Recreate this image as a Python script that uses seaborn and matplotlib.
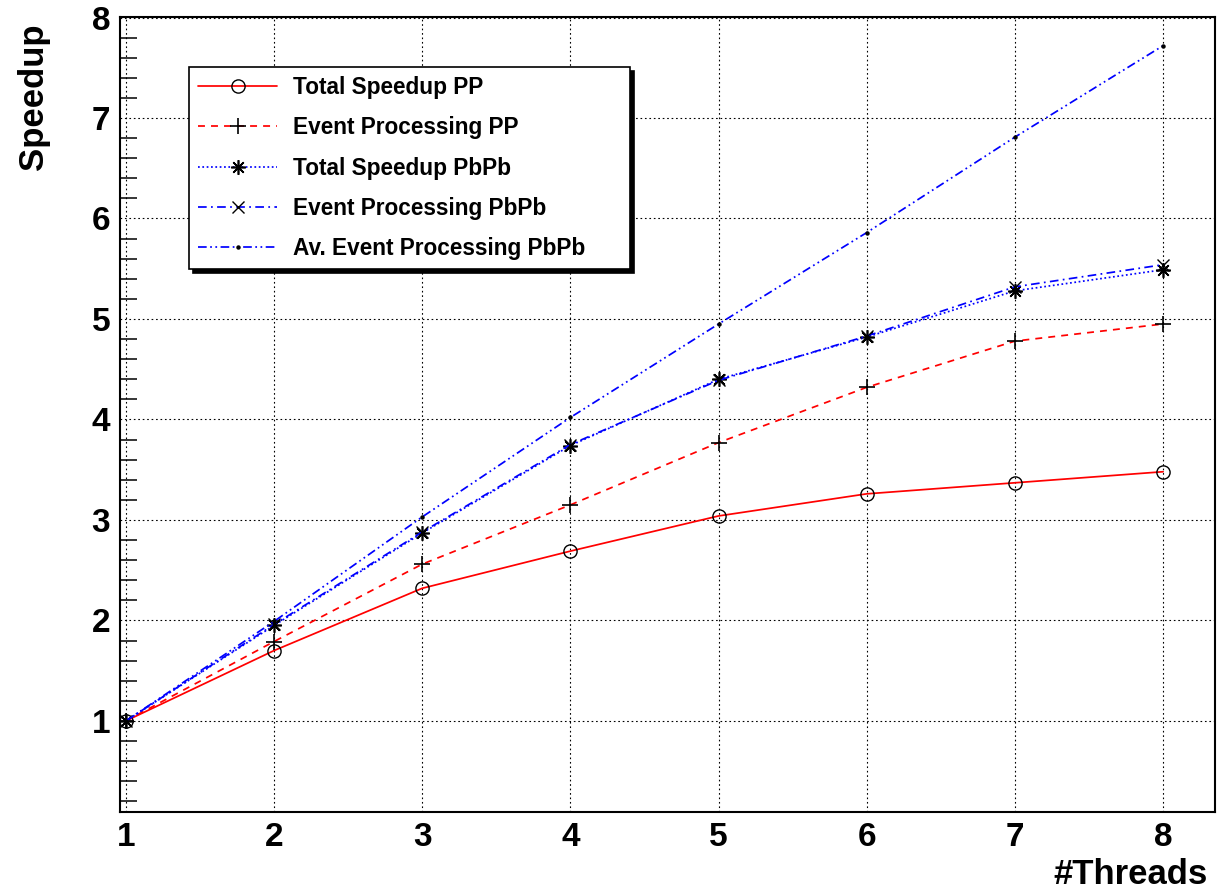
import matplotlib
matplotlib.use("Agg")
import matplotlib.pyplot as plt
from matplotlib.ticker import MultipleLocator
import pandas as pd
import seaborn as sns

threads = [1, 2, 3, 4, 5, 6, 7, 8]
total_pp = [1.00, 1.70, 2.32, 2.69, 3.04, 3.26, 3.37, 3.48]
event_pp = [1.00, 1.79, 2.56, 3.15, 3.77, 4.32, 4.78, 4.95]
total_pbpb = [1.00, 1.95, 2.87, 3.74, 4.40, 4.82, 5.28, 5.49]
event_pbpb = [1.00, 1.96, 2.88, 3.75, 4.39, 4.83, 5.32, 5.54]
av_event_pbpb = [1.00, 1.99, 3.03, 4.02, 4.95, 5.86, 6.81, 7.72]

labels = ["Total Speedup PP", "Event Processing PP", "Total Speedup PbPb",
          "Event Processing PbPb", "Av. Event Processing PbPb"]

sns.set_theme(style="white")
plt.rcParams["font.family"] = ["Liberation Sans", "DejaVu Sans"]
plt.rcParams["font.weight"] = "bold"
plt.rcParams["text.color"] = "black"
plt.rcParams["xtick.color"] = "black"
plt.rcParams["ytick.color"] = "black"
plt.rcParams["axes.labelcolor"] = "black"

fig = plt.figure(figsize=(12.2, 8.92), dpi=100)
ax = fig.add_axes([120 / 1220, 80 / 892, 1095 / 1220, 795 / 892])

# one style per series: colour, dash pattern, marker, marker size, edge width
styles = [
    ("red", "-", "o", 9.5, 1.0),
    ("red", (0, (4, 3.5)), "+", 11, 1.2),
    ("blue", (0, (1, 1.5)), (8, 2, 0), 10.5, 1.2),
    ("blue", (0, (5, 2.5, 1, 2.5)), "x", 9, 1.0),
    ("blue", (0, (5, 2, 1, 2, 1, 2)), "o", 2.2, 1.0),
]
series = [total_pp, event_pp, total_pbpb, event_pbpb, av_event_pbpb]

for vals, lab, (col, ls, mk, ms, mew) in zip(series, labels, styles):
    df = pd.DataFrame({"threads": threads, "speedup": vals})
    mfc = "black" if lab.startswith("Av.") else "none"
    sns.lineplot(data=df, x="threads", y="speedup", ax=ax, color=col,
                 linestyle=ls, linewidth=1.25, marker=mk, markersize=ms,
                 markeredgecolor="black", markerfacecolor=mfc,
                 markeredgewidth=mew, label=lab)

ax.set_xlim(0.961, 8.35)
ax.set_ylim(0.094, 8.005)
ax.xaxis.set_major_locator(MultipleLocator(1))
ax.yaxis.set_major_locator(MultipleLocator(1))
ax.yaxis.set_minor_locator(MultipleLocator(0.2))

ax.grid(True, which="major", color="black", linestyle=(0, (1.5, 2.5)),
        linewidth=0.8)
ax.tick_params(axis="both", which="major", direction="in", labelsize=24,
               width=1.1, color="black", labelcolor="black", pad=7)
ax.tick_params(axis="y", which="major", length=24)
ax.tick_params(axis="x", which="major", length=18)
ax.tick_params(axis="y", which="minor", direction="in", length=12,
               width=1.1, color="black", left=True)
for lbl in ax.get_xticklabels() + ax.get_yticklabels():
    lbl.set_fontweight("bold")

for sp in ax.spines.values():
    sp.set_color("black")
    sp.set_linewidth(1.5)

ax.set_xlabel("#Threads", fontsize=25, fontweight="bold", loc="right",
              color="black")
ax.set_ylabel("Speedup", fontsize=25, fontweight="bold", loc="top",
              color="black")
ax.xaxis.set_label_coords(0.993, -0.058)
ax.yaxis.set_label_coords(-0.064, 0.992)

leg = ax.legend(loc="upper left", bbox_to_anchor=(0.063, 0.684, 0.403, 0.253),
                mode="expand", borderaxespad=0, fancybox=False, framealpha=1,
                edgecolor="black", fontsize=16.3, handlelength=3.5,
                handletextpad=0.7, labelspacing=0.76, borderpad=0.4,
                shadow={"ox": 3, "oy": -3, "facecolor": "black",
                        "edgecolor": "black", "alpha": 1})
leg.get_frame().set_linewidth(1.2)
for t in leg.get_texts():
    t.set_fontweight("bold")
    t.set_color("black")

fig.savefig("out.png", dpi=100)
